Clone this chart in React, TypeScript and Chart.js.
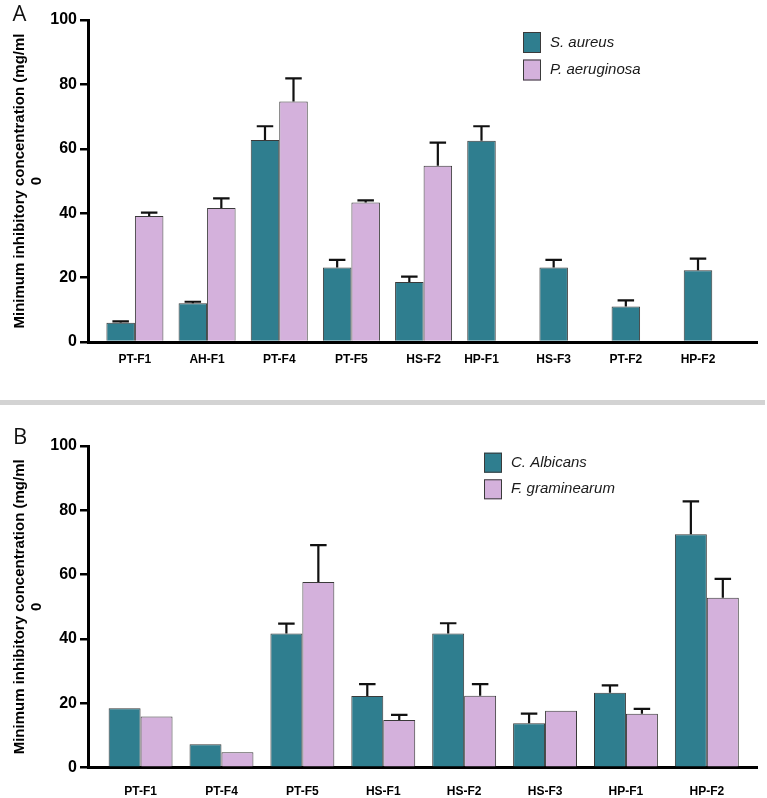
import React, { useEffect, useRef } from 'react';
import { Chart, registerables } from 'chart.js';

Chart.register(...registerables);

const FONT = '"Liberation Sans", Arial, Helvetica, sans-serif';

// ---------- Panel A data ----------
const catsA = ['PT-F1', 'AH-F1', 'PT-F4', 'PT-F5', 'HS-F2', 'HP-F1', 'HS-F3', 'PT-F2', 'HP-F2'];
const saureus = [6, 12, 62.7, 23.1, 18.6, 62.5, 23.1, 11, 22.3];
const saureusErr = [0.4, 0.5, 4.3, 2.4, 1.7, 4.5, 2.4, 1.9, 3.6];
const paeruginosa = [39.1, 41.6, 74.7, 43.3, 54.7, null, null, null, null];
const paeruginosaErr = [1.1, 3, 7.2, 0.7, 7.2, null, null, null, null];

// ---------- Panel B data ----------
const catsB = ['PT-F1', 'PT-F4', 'PT-F5', 'HS-F1', 'HS-F2', 'HS-F3', 'HP-F1', 'HP-F2'];
const calbicans = [18.5, 7.3, 41.7, 22.3, 41.7, 13.8, 23.3, 72.6];
const calbicansErr = [0, 0, 3.1, 3.7, 3.2, 3, 2.3, 10.2];
const fgraminearum = [15.9, 4.8, 57.7, 14.8, 22.4, 17.7, 16.8, 52.8];
const fgraminearumErr = [0, 0, 11.5, 1.6, 3.6, 0, 1.5, 5.9];

const yTicks = [0, 20, 40, 60, 80, 100];
const yTitle = ['Minimum inhibitory concentration (mg/ml', '0'];

const TEAL = '#2f7e8f';
const PINK = '#d4b1dc';
const EDGE = '#3a3a3a';

const errorBars = {
  id: 'errorBars',
  afterDatasetsDraw(chart: any, _a: any, o: any) {
    const ctx = chart.ctx;
    const yScale = chart.scales.y;
    ctx.save();
    ctx.strokeStyle = '#111';
    ctx.lineWidth = o.lineWidth || 2;
    chart.data.datasets.forEach((ds: any, di: number) => {
      const meta = chart.getDatasetMeta(di);
      meta.data.forEach((bar: any, i: number) => {
        const v = ds.data[i].y;
        const e = ds.errors ? ds.errors[i] : null;
        if (v == null || !e) return;
        const x = bar.x;
        const yBar = yScale.getPixelForValue(v);
        const yTop = yScale.getPixelForValue(v + e);
        const cap = o.cap || 16;
        ctx.beginPath();
        ctx.moveTo(x, yBar);
        ctx.lineTo(x, yTop);
        ctx.moveTo(x - cap / 2, yTop);
        ctx.lineTo(x + cap / 2, yTop);
        ctx.stroke();
      });
    });
    ctx.restore();
  },
};

const xLabels = {
  id: 'xLabels',
  afterDraw(chart: any, _a: any, o: any) {
    const ctx = chart.ctx;
    ctx.save();
    ctx.fillStyle = '#000';
    ctx.font = `bold 12px ${FONT}`;
    ctx.textAlign = 'center';
    ctx.textBaseline = 'middle';
    (chart.data.labels as string[]).forEach((lab, i) => {
      const xs: number[] = [];
      chart.data.datasets.forEach((ds: any, di: number) => {
        if (ds.data[i] && ds.data[i].y != null) xs.push(chart.getDatasetMeta(di).data[i].x);
      });
      if (!xs.length) return;
      const x = xs.reduce((a, b) => a + b, 0) / xs.length;
      ctx.fillText(lab, x, chart.chartArea.bottom + o.offset);
    });
    ctx.restore();
  },
};

const boxLegend = {
  id: 'boxLegend',
  afterDraw(chart: any, _a: any, o: any) {
    const ctx = chart.ctx;
    ctx.save();
    chart.data.datasets.forEach((ds: any, i: number) => {
      const y = o.y + i * o.gap;
      ctx.fillStyle = ds.backgroundColor;
      ctx.fillRect(o.x, y, o.boxW, o.boxH);
      ctx.strokeStyle = ds.borderColor;
      ctx.lineWidth = 1;
      ctx.strokeRect(o.x + 0.5, y + 0.5, o.boxW - 1, o.boxH - 1);
      ctx.fillStyle = '#1a1a1a';
      ctx.font = `italic 15px ${FONT}`;
      ctx.textAlign = 'left';
      ctx.textBaseline = 'middle';
      ctx.fillText(ds.label, o.x + o.boxW + 9, y + o.boxH / 2);
    });
    ctx.restore();
  },
};

const panelLetter = {
  id: 'panelLetter',
  afterDraw(chart: any, _a: any, o: any) {
    const ctx = chart.ctx;
    ctx.save();
    ctx.fillStyle = '#111';
    ctx.font = `22px "Open Sans", ${FONT}`;
    ctx.textAlign = 'left';
    ctx.textBaseline = 'alphabetic';
    ctx.fillText(o.text, o.x, o.y);
    ctx.restore();
  },
};

function makeConfig(p: any): any {
  return {
    type: 'bar',
    data: {
      labels: p.cats,
      datasets: p.series.map((s: any) => ({
        label: s.label,
        data: p.cats.map((_: string, i: number) => ({ x: i, y: s.values[i] })),
        errors: s.errs,
        backgroundColor: s.color,
        borderColor: EDGE,
        borderWidth: 1,
        categoryPercentage: 0.79,
        barPercentage: 1,
      })),
    },
    options: {
      animation: false,
      responsive: true,
      maintainAspectRatio: false,
      layout: { padding: { top: p.padTop, right: 10, left: 0, bottom: 0 } },
      plugins: {
        legend: { display: false },
        tooltip: { enabled: false },
        errorBars: { cap: 16.5, lineWidth: 2.2 },
        xLabels: { offset: p.labelOffset },
        boxLegend: p.legend,
        panelLetter: p.letter,
      },
      scales: {
        x: {
          type: 'linear',
          offset: false,
          min: -0.65,
          max: p.cats.length - 0.38,
          z: 1,
          afterBuildTicks: (s: any) => {
            s.ticks = p.cats.map((_: string, i: number) => ({ value: i }));
          },
          afterFit: (s: any) => {
            s.height = p.xHeight;
          },
          ticks: { display: false },
          grid: { display: false, offset: false },
          border: { display: true, color: '#000', width: 3 },
        },
        y: {
          min: 0,
          max: 100,
          z: 1,
          afterBuildTicks: (s: any) => {
            s.ticks = yTicks.map((v) => ({ value: v }));
          },
          afterFit: (s: any) => {
            s.width = 88;
          },
          ticks: {
            color: '#000',
            padding: 3,
            font: { family: FONT, size: 16, weight: 'bold' },
          },
          grid: {
            display: true,
            drawOnChartArea: false,
            drawTicks: true,
            tickLength: 8,
            tickWidth: 2.5,
            tickColor: '#000',
            color: '#000',
            lineWidth: 2.5,
          },
          border: { display: true, color: '#000', width: 3 },
          title: {
            display: true,
            text: yTitle,
            color: '#000',
            font: { family: FONT, size: 15, weight: 'bold', lineHeight: 1.15 },
            padding: { top: 11, bottom: 0 },
          },
        },
      },
    },
    plugins: [errorBars, xLabels, boxLegend, panelLetter],
  };
}

function Panel(props: any) {
  const ref = useRef<HTMLCanvasElement | null>(null);
  useEffect(() => {
    if (!ref.current) return;
    const chart = new Chart(ref.current, makeConfig(props.cfg));
    return () => chart.destroy();
  }, []);
  return (
    <div style={{ position: 'absolute', left: 0, top: props.top, width: 767, height: props.height }}>
      <canvas ref={ref} />
    </div>
  );
}

const cfgA = {
  cats: catsA,
  series: [
    { label: 'S. aureus', values: saureus, errs: saureusErr, color: TEAL },
    { label: 'P. aeruginosa', values: paeruginosa, errs: paeruginosaErr, color: PINK },
  ],
  padTop: 20,
  xHeight: 58,
  labelOffset: 18,
  legend: { x: 523, y: 32, boxW: 18, boxH: 21, gap: 27.5 },
  letter: { text: 'A', x: 12.5, y: 20.5 },
};

const cfgB = {
  cats: catsB,
  series: [
    { label: 'C. Albicans', values: calbicans, errs: calbicansErr, color: TEAL },
    { label: 'F. graminearum', values: fgraminearum, errs: fgraminearumErr, color: PINK },
  ],
  padTop: 41,
  xHeight: 30.3,
  labelOffset: 24,
  legend: { x: 484, y: 47.7, boxW: 18, boxH: 20, gap: 26.6 },
  letter: { text: 'B', x: 13, y: 38.5 },
};

export default function App() {
  return (
    <div style={{ position: 'absolute', left: 0, top: 0, width: 767, height: 798, background: '#fff' }}>
      <Panel top={0} height={400} cfg={cfgA} />
      <div style={{ position: 'absolute', left: 0, top: 400, width: 765, height: 5, background: '#d3d3d3' }} />
      <Panel top={405} height={393} cfg={cfgB} />
    </div>
  );
}
